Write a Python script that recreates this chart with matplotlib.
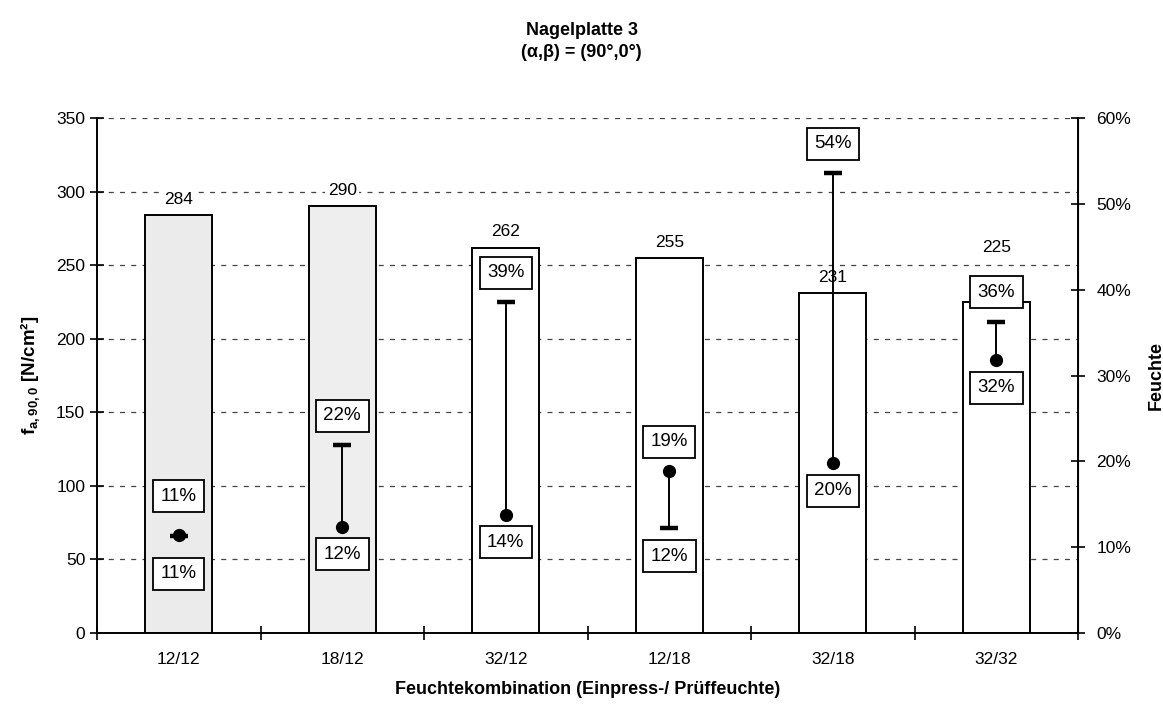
import matplotlib
matplotlib.use("Agg")
import matplotlib.pyplot as plt
import numpy as np

plt.rcParams["font.family"] = ["Liberation Sans", "DejaVu Sans"]
plt.rcParams["mathtext.fontset"] = "custom"
plt.rcParams["mathtext.rm"] = "Liberation Sans"
plt.rcParams["mathtext.bf"] = "Liberation Sans:bold"

# data
categories = ["12/12", "18/12", "32/12", "12/18", "32/18", "32/32"]
strength = [284, 290, 262, 255, 231, 225]          # f_a,90,0 in N/cm²
moist_dot = [11.4, 12.4, 13.8, 18.9, 19.8, 31.8]   # Feuchte (dot marker), %
moist_cap = [11.3, 21.9, 38.6, 12.2, 53.6, 36.3]   # Feuchte (bar end), %
dot_labels = ["11%", "12%", "14%", "19%", "20%", "32%"]
cap_labels = ["11%", "22%", "39%", "12%", "54%", "36%"]

bar_colors = ["#ebebeb", "#eeeeee", "white", "white", "white", "white"]
value_nudge = {5: 28}   # extra lift (pt) for labels that would collide

fig = plt.figure(figsize=(11.63, 7.12), dpi=100)
ax = fig.add_axes([0.0834, 0.111, 0.8436, 0.723])
ax2 = ax.twinx()

x = np.arange(len(categories))
bars = ax.bar(x, strength, width=0.41, color=bar_colors, edgecolor="black",
              linewidth=1.4, zorder=2)

ax.set_xlim(-0.5, len(categories) - 0.5)
ax.set_ylim(0, 350)
ax.set_yticks(np.arange(0, 351, 50))
ax.yaxis.grid(True, linestyle=(0, (4, 5)), linewidth=0.9, color="#444444")
ax.set_axisbelow(True)

ax.set_xticks(x)
ax.set_xticklabels(categories, fontsize=12.5)
ax.set_xticks(np.arange(-0.5, len(categories) - 0.4, 1), minor=True)
ax.tick_params(axis="x", which="major", length=0, pad=14)
ax.tick_params(axis="x", which="minor", direction="inout", length=10, width=1.2)
ax.tick_params(axis="y", direction="inout", length=10, width=1.2, labelsize=12.5)

for sp in ["left", "bottom"]:
    ax.spines[sp].set_linewidth(1.4)
ax.spines["top"].set_visible(False)
ax2.spines["top"].set_visible(False)
ax2.spines["right"].set_linewidth(1.4)
ax2.spines["left"].set_visible(False)
ax2.spines["bottom"].set_visible(False)

for i, b in enumerate(bars):
    ax.annotate(str(strength[i]), (b.get_x() + b.get_width() / 2, strength[i]),
                xytext=(0, 6 + value_nudge.get(i, 0)), textcoords="offset points",
                ha="center", va="bottom", fontsize=12.5, zorder=6,
                bbox=dict(boxstyle="square,pad=0.15", fc="white", ec="none"))

# Feuchte on the secondary axis
ax2.set_ylim(0, 60)
ax2.set_yticks(np.arange(0, 61, 10))
ax2.set_yticklabels([f"{v}%" for v in range(0, 61, 10)])
ax2.tick_params(axis="y", direction="inout", length=10, width=1.2,
                labelsize=12.5, pad=8)

ax2.vlines(x, moist_dot, moist_cap, color="black", linewidth=1.4, zorder=3)
ax2.plot(x, moist_cap, linestyle="none", marker="_", markersize=13,
         markeredgewidth=3.2, color="black", zorder=4)
ax2.plot(x, moist_dot, linestyle="none", marker="o", markersize=8.5,
         color="black", zorder=4)

box = dict(boxstyle="square,pad=0.4", fc="white", ec="black", lw=1.3)
for i in range(len(categories)):
    hi_top = moist_cap[i] >= moist_dot[i]
    top_val, top_lab = (moist_cap[i], cap_labels[i]) if hi_top else (moist_dot[i], dot_labels[i])
    bot_val, bot_lab = (moist_dot[i], dot_labels[i]) if hi_top else (moist_cap[i], cap_labels[i])
    # overlapping points get their labels pushed a bit further apart
    extra = 7 if abs(top_val - bot_val) < 1 else 0
    ax2.annotate(top_lab, (x[i], max(top_val, bot_val)), xytext=(0, 21 + extra),
                 textcoords="offset points", ha="center", va="center",
                 fontsize=13.5, bbox=box, zorder=5)
    ax2.annotate(bot_lab, (x[i], min(top_val, bot_val)), xytext=(0, -20 - extra),
                 textcoords="offset points", ha="center", va="center",
                 fontsize=13.5, bbox=box, zorder=5)

ax.set_xlabel("Feuchtekombination (Einpress-/ Prüffeuchte)", fontsize=13,
              fontweight="bold", labelpad=10)
ax.set_ylabel(r"$\mathbf{f_{a,90,0}}$ [N/cm²]", fontsize=13.5, fontweight="bold",
              labelpad=10)
ax2.set_ylabel("Feuchte", fontsize=13, fontweight="bold", labelpad=12)

fig.text(0.5, 0.957, "Nagelplatte 3", ha="center", va="center", fontsize=13,
         fontweight="bold")
fig.text(0.5, 0.926, "(α,β) = (90°,0°)", ha="center", va="center", fontsize=13,
         fontweight="bold")

fig.savefig("out.png", dpi=100, facecolor="white")
